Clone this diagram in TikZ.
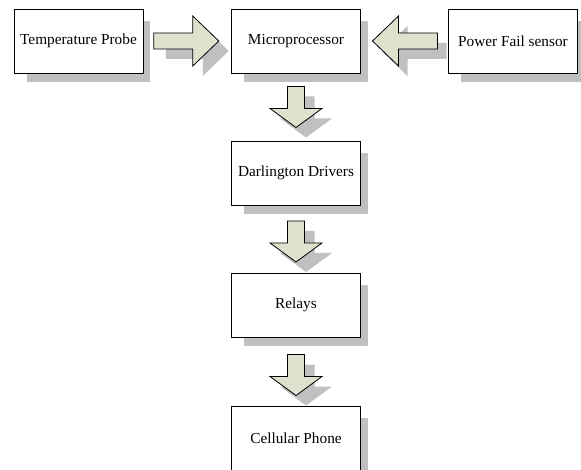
\documentclass[tikz,border=0pt]{standalone}
\usepackage{fontspec}
\setmainfont{Liberation Serif}
\usetikzlibrary{calc,backgrounds}
\definecolor{arrowfill}{RGB}{221,226,204}
\definecolor{shadowgray}{RGB}{192,192,192}
\tikzset{
  box/.style={draw=black, line width=0.9pt, fill=white, minimum width=129pt, minimum height=64pt, inner sep=0pt, font=\fontsize{15.3}{18}\selectfont},
  blockfill/.style={fill=arrowfill, draw=black, line width=0.8pt, line join=miter},
  pics/harrow/.style={code={
    \fill[shadowgray] (-20.5,2) -- (16.5,2) -- (16.5,-15) -- (42.5,10) -- (16.5,35) -- (16.5,18) -- (-20.5,18) -- cycle;
    \draw[blockfill] (-32.5,-8) -- (6.5,-8) -- (6.5,-25) -- (32.5,0) -- (6.5,25) -- (6.5,8) -- (-32.5,8) -- cycle;
  }},
  pics/larrow/.style={code={
    \fill[shadowgray] (41.5,2) -- (2.5,2) -- (2.5,-15) -- (-23.5,10) -- (2.5,35) -- (2.5,18) -- (41.5,18) -- cycle;
    \draw[blockfill] (32.5,-8) -- (-6.5,-8) -- (-6.5,-25) -- (-32.5,0) -- (-6.5,25) -- (-6.5,8) -- (32.5,8) -- cycle;
  }},
  pics/varrow/.style={code={
    \fill[shadowgray] (1.5,-10.5) -- (18.5,-10.5) -- (18.5,11.5) -- (36,11.5) -- (10,30.5) -- (-16,11.5) -- (1.5,11.5) -- cycle;
    \draw[blockfill] (-8.5,-20.5) -- (8.5,-20.5) -- (8.5,1.5) -- (26,1.5) -- (0,20.5) -- (-26,1.5) -- (-8.5,1.5) -- cycle;
  }}
}
\begin{document}
\begin{tikzpicture}[x=1pt, y=-1pt]
\useasboundingbox (0,0) rectangle (581,470);
\node[box] (tp) at (78.5,41) {Temperature Probe};
\node[box] (mp) at (296,41) {Microprocessor};
\node[box] (pf) at (513,41) {Power Fail sensor};
\node[box] (dd) at (296,173) {Darlington Drivers};
\node[box] (rl) at (296,305) {Relays};
\node[box] (cp) at (296,438) {Cellular Phone};
\begin{scope}[on background layer]
\foreach \n in {tp,mp,pf,dd,rl,cp}
  \fill[shadowgray] ([shift={(13,12)}]\n.north west) rectangle ([shift={(7,9)}]\n.south east);
\pic at ($(tp.east)!0.5!(mp.west)+(-1,0)$) {harrow};
\pic at ($(mp.east)!0.5!(pf.west)+(0.5,0)$) {larrow};
\pic at ($(mp.south)!0.5!(dd.north)$) {varrow};
\pic at ($(dd.south)!0.5!(rl.north)+(0,2.5)$) {varrow};
\pic at ($(rl.south)!0.5!(cp.north)+(0,3.5)$) {varrow};
\end{scope}
\end{tikzpicture}
\end{document}
